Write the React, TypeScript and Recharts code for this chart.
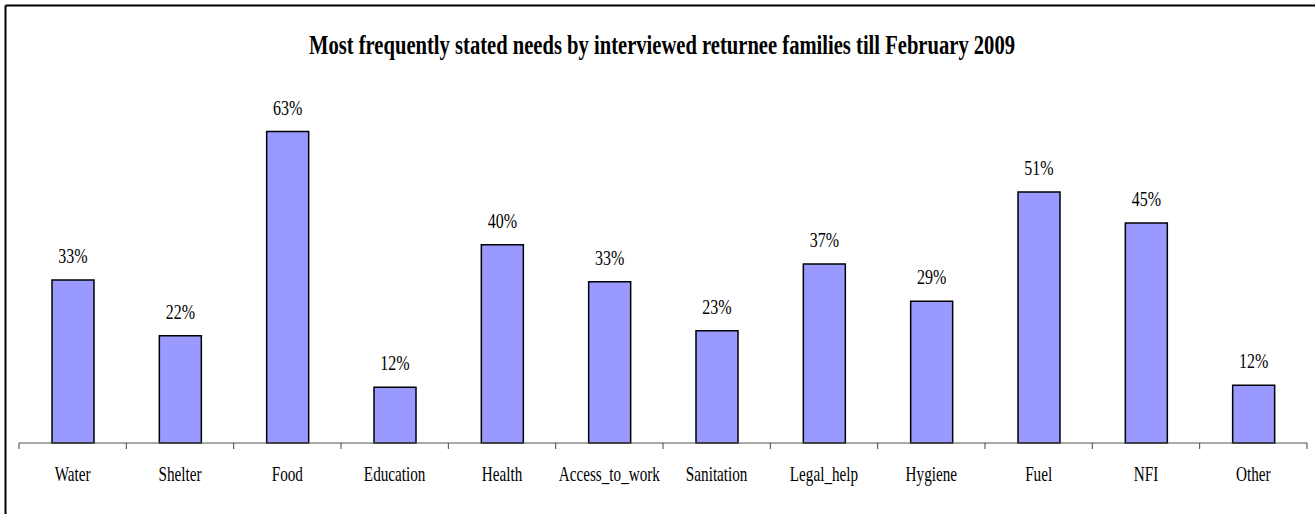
import React from "react";
import { BarChart, Bar, XAxis, YAxis, LabelList } from "recharts";

const categories = ["Water", "Shelter", "Food", "Education", "Health", "Access_to_work", "Sanitation", "Legal_help", "Hygiene", "Fuel", "NFI", "Other"];
const values = [33.0, 21.7, 63.0, 11.3, 40.1, 32.6, 22.7, 36.2, 28.7, 50.8, 44.5, 11.7];
const valueLabels = ["33%", "22%", "63%", "12%", "40%", "33%", "23%", "37%", "29%", "51%", "45%", "12%"];
const title = "Most frequently stated needs by interviewed returnee families till February 2009";

const data = categories.map((c, i) => ({ name: c, value: values[i], label: valueLabels[i] }));

const FONT = "'Liberation Serif', 'Times New Roman', serif";

const CategoryTick = (props: any) => {
  const { x, y, payload, index } = props;
  const half = payload && typeof payload.offset === "number" && payload.offset > 0 ? payload.offset : 1288 / 24;
  const isLast = index === categories.length - 1;
  return (
    <g>
      <line x1={x - half} x2={x - half} y1={y} y2={y + 6} stroke="#444" strokeWidth={1} />
      {isLast && <line x1={x + half} x2={x + half} y1={y} y2={y + 6} stroke="#444" strokeWidth={1} />}
      <g transform={`translate(${x},${y + 38})`}>
        <text transform="scale(0.76,1)" textAnchor="middle" fontFamily={FONT} fontSize={20} fill="#000">
          {payload.value}
        </text>
      </g>
    </g>
  );
};

const ValueLabel = (props: any) => {
  const { x, y, width, index } = props;
  const cx = Number(x) + Number(width) / 2;
  return (
    <g transform={`translate(${cx},${Number(y) - 17})`}>
      <text transform="scale(0.8,1)" textAnchor="middle" fontFamily={FONT} fontSize={20} fill="#000">
        {valueLabels[index]}
      </text>
    </g>
  );
};

export default function App() {
  return (
    <div style={{ position: "absolute", left: 0, top: 0, width: 1315, height: 514, overflow: "hidden", background: "#fff" }}>
      <svg width={1315} height={514} style={{ position: "absolute", left: 0, top: 0 }}>
        <line x1={5.5} y1={5.5} x2={1315} y2={5.5} stroke="#000" strokeWidth={2} />
        <line x1={5.5} y1={5.5} x2={5.5} y2={514} stroke="#000" strokeWidth={2} />
        <text x={662} y={54} textAnchor="middle" fontFamily={FONT} fontWeight="bold" fontSize={28} textLength={706} lengthAdjust="spacingAndGlyphs" fill="#000">
          {title}
        </text>
      </svg>
      <div style={{ position: "absolute", left: 0, top: 0 }}>
        <BarChart width={1315} height={514} data={data} margin={{ top: 97, right: 8, bottom: 31, left: 19 }}>
          <YAxis hide domain={[0, 70]} />
          <XAxis
            dataKey="name"
            height={40}
            tickLine={false}
            tickSize={0}
            tickMargin={0}
            axisLine={{ stroke: "#555", strokeWidth: 1 }}
            tick={<CategoryTick />}
            interval={0}
          />
          <Bar dataKey="value" fill="#9999FF" stroke="#000" strokeWidth={1.5} barSize={42} isAnimationActive={false}>
            <LabelList dataKey="label" content={<ValueLabel />} />
          </Bar>
        </BarChart>
      </div>
    </div>
  );
}
